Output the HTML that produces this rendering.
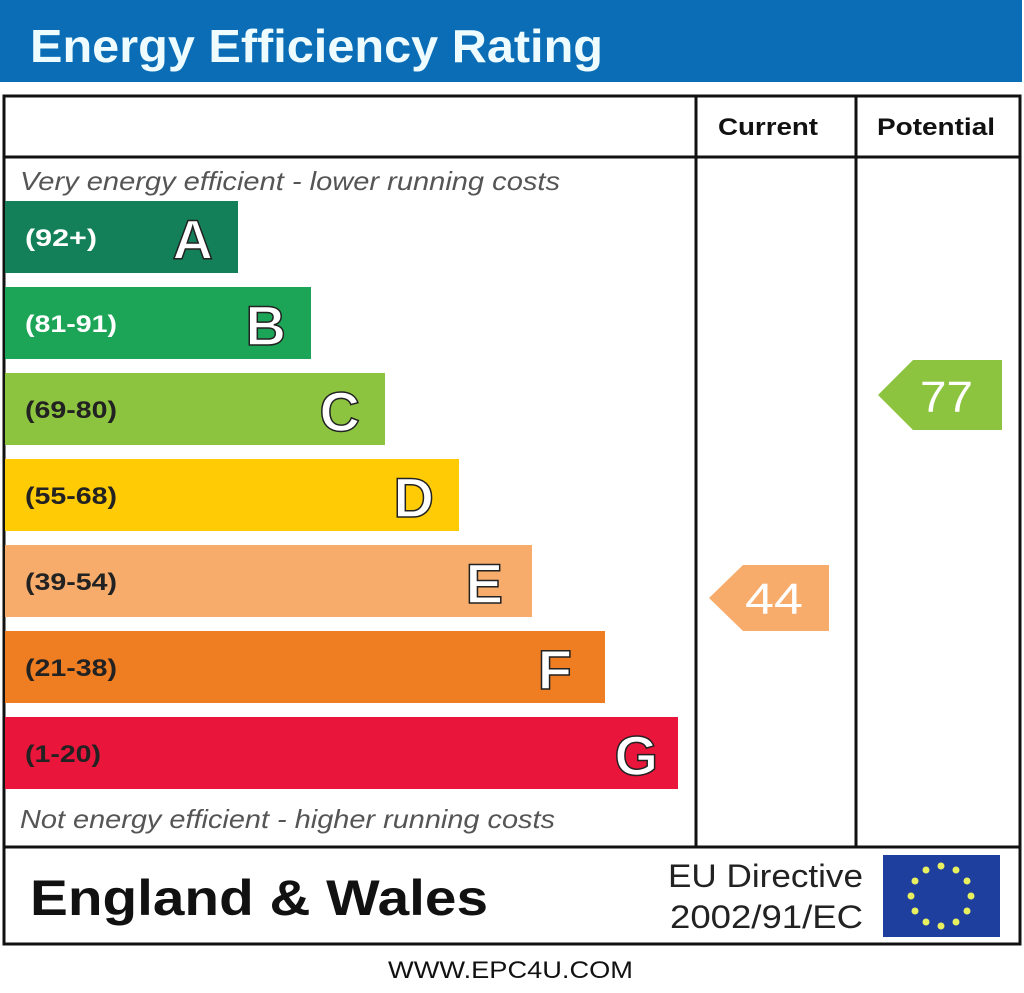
<!DOCTYPE html>
<html><head><meta charset="utf-8"><style>html,body{margin:0;padding:0;background:#fff}svg{display:block}</style></head>
<body>
<svg width="1024" height="993" viewBox="0 0 1024 993" xmlns="http://www.w3.org/2000/svg" style="font-family:'Liberation Sans',sans-serif">
<rect x="0" y="0" width="1022" height="82" fill="#0b6db6"/>
<text x="30" y="62" font-size="46" font-weight="bold" fill="#eefcff" textLength="573" lengthAdjust="spacingAndGlyphs">Energy Efficiency Rating</text>
<rect x="4" y="96" width="1016" height="848" fill="#fff" stroke="#111" stroke-width="3"/>
<line x1="4" y1="157" x2="1020" y2="157" stroke="#111" stroke-width="3"/>
<line x1="696" y1="96" x2="696" y2="847" stroke="#111" stroke-width="3"/>
<line x1="856" y1="96" x2="856" y2="847" stroke="#111" stroke-width="3"/>
<line x1="4" y1="847" x2="1020" y2="847" stroke="#111" stroke-width="3"/>
<text x="718" y="135" font-size="24" font-weight="bold" fill="#111" textLength="100" lengthAdjust="spacingAndGlyphs">Current</text>
<text x="877" y="135" font-size="24" font-weight="bold" fill="#111" textLength="118" lengthAdjust="spacingAndGlyphs">Potential</text>
<text x="20" y="190" font-size="26" font-style="italic" fill="#555" textLength="540" lengthAdjust="spacingAndGlyphs">Very energy efficient - lower running costs</text>
<text x="20" y="828" font-size="26" font-style="italic" fill="#555" textLength="535" lengthAdjust="spacingAndGlyphs">Not energy efficient - higher running costs</text>
<g font-weight="bold">
<rect x="5" y="201" width="233" height="72" fill="#13805a"/>
<text x="25" y="246" font-size="24" fill="#fff" textLength="72" lengthAdjust="spacingAndGlyphs">(92+)</text>
<text x="213" y="259" font-size="56" fill="#fff" stroke="#222" stroke-width="1.5" text-anchor="end">A</text>
<rect x="5" y="287" width="306" height="72" fill="#1ca557"/>
<text x="25" y="332" font-size="24" fill="#fff" textLength="92" lengthAdjust="spacingAndGlyphs">(81-91)</text>
<text x="286" y="345" font-size="56" fill="#fff" stroke="#222" stroke-width="1.5" text-anchor="end">B</text>
<rect x="5" y="373" width="380" height="72" fill="#8dc43f"/>
<text x="25" y="418" font-size="24" fill="#222" textLength="92" lengthAdjust="spacingAndGlyphs">(69-80)</text>
<text x="360" y="431" font-size="56" fill="#fff" stroke="#222" stroke-width="1.5" text-anchor="end">C</text>
<rect x="5" y="459" width="454" height="72" fill="#fecb05"/>
<text x="25" y="504" font-size="24" fill="#222" textLength="92" lengthAdjust="spacingAndGlyphs">(55-68)</text>
<text x="434" y="517" font-size="56" fill="#fff" stroke="#222" stroke-width="1.5" text-anchor="end">D</text>
<rect x="5" y="545" width="527" height="72" fill="#f7ac6c"/>
<text x="25" y="590" font-size="24" fill="#222" textLength="92" lengthAdjust="spacingAndGlyphs">(39-54)</text>
<text x="503" y="603" font-size="56" fill="#fff" stroke="#222" stroke-width="1.5" text-anchor="end">E</text>
<rect x="5" y="631" width="600" height="72" fill="#ef7d22"/>
<text x="25" y="676" font-size="24" fill="#222" textLength="92" lengthAdjust="spacingAndGlyphs">(21-38)</text>
<text x="572" y="689" font-size="56" fill="#fff" stroke="#222" stroke-width="1.5" text-anchor="end">F</text>
<rect x="5" y="717" width="673" height="72" fill="#e9153b"/>
<text x="25" y="762" font-size="24" fill="#222" textLength="76" lengthAdjust="spacingAndGlyphs">(1-20)</text>
<text x="658" y="775" font-size="56" fill="#fff" stroke="#222" stroke-width="1.5" text-anchor="end">G</text>
</g>
<polygon points="709,598 743,565 829,565 829,631 743,631" fill="#f7ac6c"/>
<text x="745" y="614" font-size="44" fill="#fff" textLength="58" lengthAdjust="spacingAndGlyphs">44</text>
<polygon points="878,395 913,360 1002,360 1002,430 913,430" fill="#8dc43f"/>
<text x="920" y="412" font-size="44" fill="#fff" textLength="53" lengthAdjust="spacingAndGlyphs">77</text>
<text x="30" y="915" font-size="50" font-weight="bold" fill="#111" textLength="458" lengthAdjust="spacingAndGlyphs">England &amp; Wales</text>
<text x="668" y="887" font-size="32" fill="#222" textLength="195" lengthAdjust="spacingAndGlyphs">EU Directive</text>
<text x="670" y="928" font-size="32" fill="#222" textLength="193" lengthAdjust="spacingAndGlyphs">2002/91/EC</text>
<rect x="883" y="855" width="117" height="82" fill="#1f3f9e"/>
<g fill="#e8f060">
<circle cx="941" cy="866" r="3.5"/><circle cx="956" cy="870" r="3.5"/><circle cx="967" cy="881" r="3.5"/><circle cx="971" cy="896" r="3.5"/><circle cx="967" cy="911" r="3.5"/><circle cx="956" cy="922" r="3.5"/><circle cx="941" cy="926" r="3.5"/><circle cx="926" cy="922" r="3.5"/><circle cx="915" cy="911" r="3.5"/><circle cx="911" cy="896" r="3.5"/><circle cx="915" cy="881" r="3.5"/><circle cx="926" cy="870" r="3.5"/>
</g>
<text x="388" y="978" font-size="24" fill="#111" textLength="245" lengthAdjust="spacingAndGlyphs">WWW.EPC4U.COM</text>
</svg>
</body></html>
